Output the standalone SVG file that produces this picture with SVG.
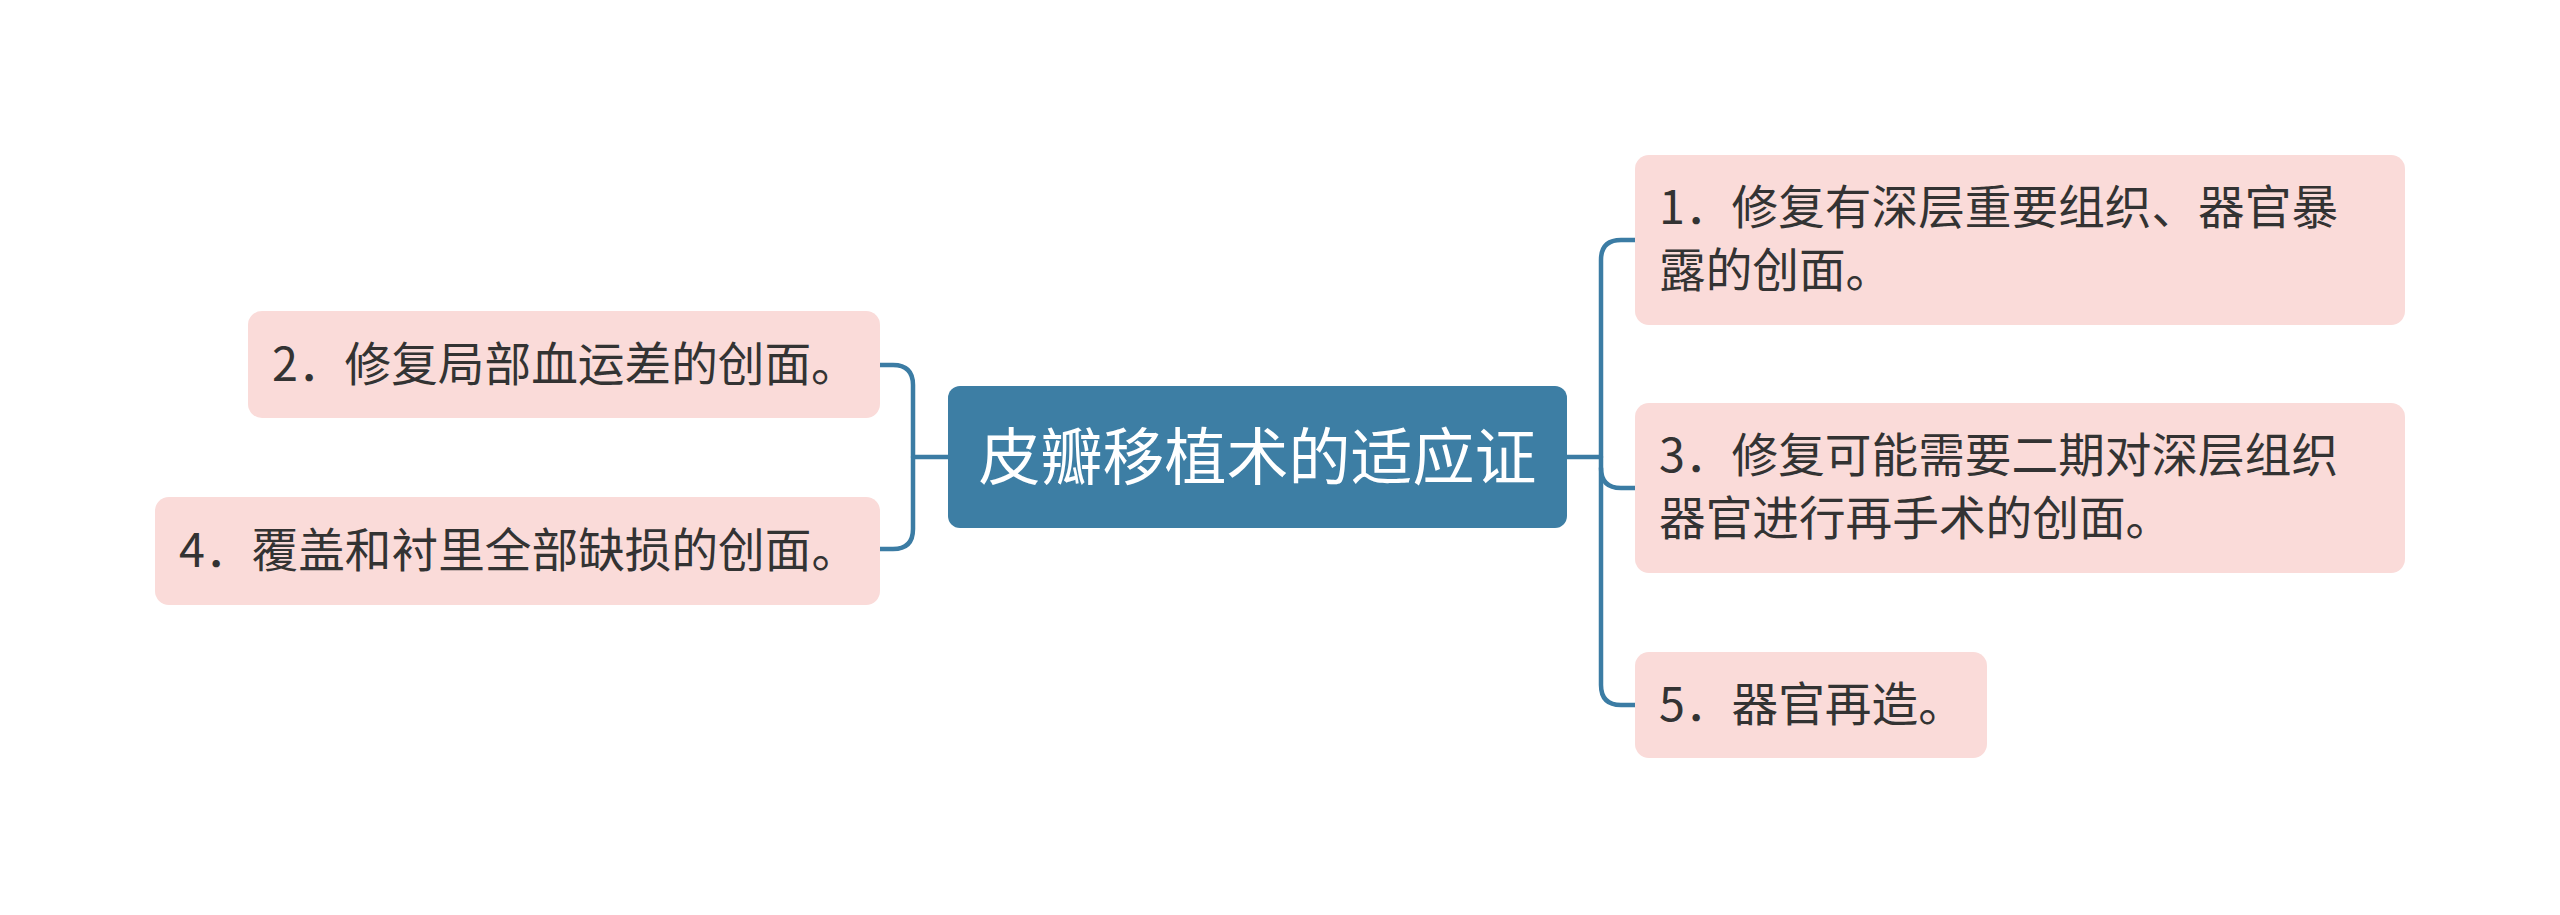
<svg xmlns="http://www.w3.org/2000/svg" width="2560" height="915" viewBox="0 0 2560 915">
<style>
.sub{fill:#fadbd9}
.t{font-family:"Noto Sans CJK SC","Noto Sans",sans-serif;font-size:46.67px;fill:#333333}
.ct{font-family:"Noto Sans CJK SC","Noto Sans",sans-serif;font-size:62px;fill:#ffffff}
.ln{fill:none;stroke:#3b7ca4;stroke-width:4.5;stroke-linecap:round;stroke-linejoin:round}
</style>
<rect width="2560" height="915" fill="#ffffff"/>
<g id="connectors">
<path class="ln" d="M948,457 H913"/>
<path class="ln" d="M880,365 H893 Q913,365 913,385 V529 Q913,549 893,549 H880"/>
<path class="ln" d="M1567,457 H1601"/>
<path class="ln" d="M1635,240 H1621 Q1601,240 1601,260 V685 Q1601,705 1621,705 H1635"/>
<path class="ln" d="M1601,468 Q1601,488 1621,488 H1635"/>
</g>
<g id="center">
<rect x="948" y="386" width="619" height="142" rx="12" fill="#3d7ea4"/>
<text class="ct" x="1257.5" y="480" text-anchor="middle">皮瓣移植术的适应证</text>
</g>
<g id="node1">
<rect class="sub" x="1635" y="155" width="770" height="170" rx="14"/>
<text class="t" x="1659" y="224">1．修复有深层重要组织、器官暴</text>
<text class="t" x="1659" y="287">露的创面。</text>
</g>
<g id="node3">
<rect class="sub" x="1635" y="403" width="770" height="170" rx="14"/>
<text class="t" x="1659" y="472">3．修复可能需要二期对深层组织</text>
<text class="t" x="1659" y="535">器官进行再手术的创面。</text>
</g>
<g id="node5">
<rect class="sub" x="1635" y="652" width="352" height="106" rx="14"/>
<text class="t" x="1659" y="721">5．器官再造。</text>
</g>
<g id="node2">
<rect class="sub" x="248" y="311" width="632" height="107" rx="14"/>
<text class="t" x="272" y="381">2．修复局部血运差的创面。</text>
</g>
<g id="node4">
<rect class="sub" x="155" y="497" width="725" height="108" rx="14"/>
<text class="t" x="179" y="567">4．覆盖和衬里全部缺损的创面。</text>
</g>
</svg>
